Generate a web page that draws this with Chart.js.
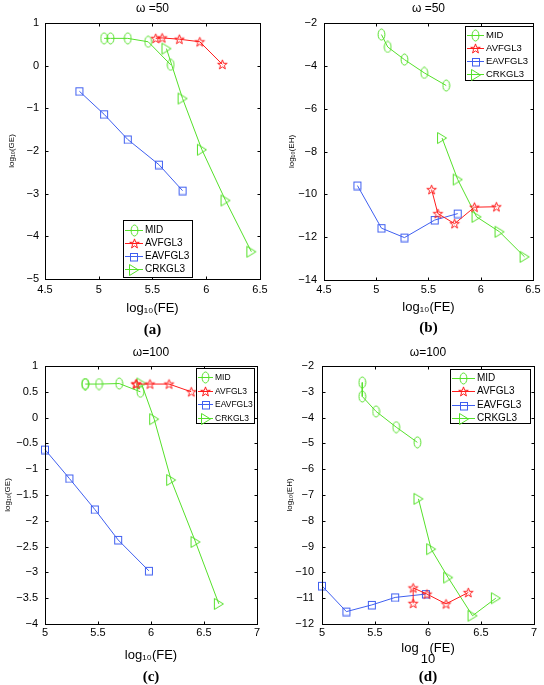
<!DOCTYPE html>
<html>
<head>
<meta charset="utf-8">
<script src="https://cdn.jsdelivr.net/npm/chart.js@4.4.0/dist/chart.umd.min.js"></script>
<style>
  body { margin: 0; background: #fff; }
  #wrap { position: relative; width: 544px; height: 685px; background: #fff; }
  #wrap canvas { position: absolute; }
</style>
</head>
<body>
<div id="wrap">
  <canvas id="pa" width="272" height="340" style="left:0;top:0"></canvas>
  <canvas id="pb" width="272" height="340" style="left:272px;top:0"></canvas>
  <canvas id="pc" width="272" height="345" style="left:0;top:340px"></canvas>
  <canvas id="pd" width="272" height="345" style="left:272px;top:340px"></canvas>
</div>
<script>
// ---- data ----
const seriesNames = ["MID", "AVFGL3", "EAVFGL3", "CRKGL3"];

// omega = 50 : log10(FE)
const feMid50 = [5.05, 5.11, 5.27, 5.46, 5.67];
const feAvf50 = [5.53, 5.59, 5.75, 5.94, 6.15];
const feEavf50 = [4.82, 5.05, 5.27, 5.56, 5.78];
const feCrk50 = [5.63, 5.78, 5.96, 6.18, 6.42];
// omega = 50 : log10(GE)
const geMid50 = [0.64, 0.64, 0.64, 0.56, 0.02];
const geAvf50 = [0.64, 0.65, 0.62, 0.56, 0.03];
const geEavf50 = [-0.60, -1.14, -1.73, -2.32, -2.93];
const geCrk50 = [0.40, -0.77, -1.97, -3.16, -4.36];
// omega = 50 : log10(EH)
const ehMid50 = [-2.54, -3.12, -3.71, -4.33, -4.92];
const ehAvf50 = [-9.78, -10.90, -11.37, -10.60, -10.58];
const ehEavf50 = [-9.59, -11.58, -12.02, -11.20, -10.90];
const ehCrk50 = [-7.37, -9.31, -11.05, -11.75, -12.92];

// omega = 100 : log10(FE)
const feMid100 = [5.38, 5.38, 5.51, 5.70, 5.90];
const feAvf100 = [5.86, 5.86, 5.99, 6.17, 6.38];
const feEavf100 = [5.00, 5.23, 5.47, 5.69, 5.98];
const feCrk100 = [5.91, 6.03, 6.19, 6.42, 6.64];
// omega = 100 : log10(GE)
const geMid100 = [0.65, 0.65, 0.65, 0.66, 0.50];
const geAvf100 = [0.65, 0.65, 0.65, 0.65, 0.50];
const geEavf100 = [-0.62, -1.18, -1.78, -2.37, -2.97];
const geCrk100 = [0.66, -0.03, -1.21, -2.41, -3.61];
// omega = 100 : log10(EH)
const ehMid100 = [-2.64, -3.18, -3.76, -4.37, -4.96];
const ehAvf100 = [-11.20, -10.60, -10.84, -11.22, -10.78];
const ehEavf100 = [-10.52, -11.52, -11.26, -10.97, -10.84];
const ehCrk100 = [-7.15, -9.10, -10.20, -11.68, -11.00];

// axis ranges / tick steps
const xRange50 = [4.5, 6.5], xRange100 = [5, 7], xStep = 0.5;
const yRangeA = [-5, 1], yStepA = 1;
const yRangeB = [-14, -2], yStepB = 2;
const yRangeC = [-4, 1], yStepC = 0.5;
const yRangeD = [-12, -2], yStepD = 1;

// ---- styling ----
const SANS = "'Liberation Sans', Arial, Helvetica, sans-serif";
const SERIF = "'Liberation Serif', 'Times New Roman', serif";
const GREEN = "#55e02a", RED = "#ff1c1c", BLUE = "#3f5ff0";

function markerCanvas(w, h, draw) {
  const c = document.createElement("canvas");
  c.width = w; c.height = h;
  const g = c.getContext("2d");
  g.lineWidth = 1;
  draw(g);
  return c;
}
const ellipseMark = markerCanvas(9, 13, g => {
  g.strokeStyle = GREEN;
  g.beginPath(); g.ellipse(4.5, 6.5, 3.4, 5.5, 0, 0, Math.PI * 2); g.stroke();
});
const starMark = markerCanvas(13, 13, g => {
  g.strokeStyle = RED;
  g.beginPath();
  for (let i = 0; i < 10; i++) {
    const r = i % 2 ? 2.0 : 5.0;
    const a = -Math.PI / 2 + i * Math.PI / 5;
    const px = 6.5 + r * Math.cos(a), py = 6.9 + r * Math.sin(a);
    if (i) g.lineTo(px, py); else g.moveTo(px, py);
  }
  g.closePath(); g.stroke();
});
const squareMark = markerCanvas(10, 10, g => {
  g.strokeStyle = BLUE; g.strokeRect(1.5, 1.5, 7, 7.5);
});
const triMark = markerCanvas(12, 14, g => {
  g.strokeStyle = GREEN;
  g.beginPath(); g.moveTo(1.5, 1.5); g.lineTo(10.5, 7); g.lineTo(1.5, 12.5); g.closePath(); g.stroke();
});

const seriesStyle = [
  { color: GREEN, mark: ellipseMark },
  { color: RED, mark: starMark },
  { color: BLUE, mark: squareMark },
  { color: GREEN, mark: triMark },
];

// box + inward ticks like a matlab axes
const matlabFrame = {
  id: "matlabFrame",
  afterDatasetsDraw(chart) {
    const { ctx, chartArea: a, scales: { x, y } } = chart;
    const L = Math.round(a.left) + 0.5, R = Math.round(a.right) + 0.5;
    const T = Math.round(a.top) + 0.5, B = Math.round(a.bottom) + 0.5;
    const t = 3;
    ctx.save();
    ctx.strokeStyle = "#000";
    ctx.lineWidth = 1;
    ctx.strokeRect(L, T, R - L, B - T);
    ctx.beginPath();
    x.ticks.forEach(tk => {
      const px = Math.round(x.getPixelForValue(tk.value)) + 0.5;
      ctx.moveTo(px, B); ctx.lineTo(px, B - t);
      ctx.moveTo(px, T); ctx.lineTo(px, T + t);
    });
    y.ticks.forEach(tk => {
      const py = Math.round(y.getPixelForValue(tk.value)) + 0.5;
      ctx.moveTo(L, py); ctx.lineTo(L + t, py);
      ctx.moveTo(R, py); ctx.lineTo(R - t, py);
    });
    ctx.stroke();
    ctx.restore();
  }
};

// boxed legend drawn with line + marker samples
const boxLegend = {
  id: "boxLegend",
  afterDraw(chart, args, o) {
    const { ctx } = chart;
    ctx.save();
    ctx.fillStyle = "#fff";
    ctx.fillRect(o.x, o.y, o.w, o.h);
    ctx.strokeStyle = "#000";
    ctx.lineWidth = 1;
    ctx.strokeRect(o.x + 0.5, o.y + 0.5, o.w, o.h);
    ctx.font = o.fontSize + "px " + SANS;
    ctx.textBaseline = "middle";
    ctx.textAlign = "left";
    chart.data.datasets.forEach((ds, i) => {
      const cy = Math.round(o.y + o.first + i * o.row) + 0.5;
      const x0 = o.x + 2, x1 = x0 + o.lineW;
      ctx.strokeStyle = ds.borderColor;
      ctx.beginPath(); ctx.moveTo(x0, cy); ctx.lineTo(x1, cy); ctx.stroke();
      const img = ds.pointStyle;
      ctx.drawImage(img, Math.round((x0 + x1) / 2 - img.width / 2), Math.round(cy - img.height / 2));
      ctx.fillStyle = "#000";
      ctx.fillText(ds.label, x1 + 2, cy);
    });
    ctx.restore();
  }
};

function fmtTick(v) {
  return String(Math.round(v * 10) / 10).replace("-", "\u2212");
}

function buildPanel(id, p) {
  const canvas = document.getElementById(id);
  const H = canvas.height, W = canvas.width;
  const a = p.area;
  const tickLh = 11 * 1.2, titleLh = 12 * 1.2, subLh = 15 * 1.2, yLh = 8 * 1.2;
  const xLh = 13 * p.xTitleLineH;
  const subPadB = H - p.subY - subLh / 2;
  const subTop = p.subY - subLh / 2;
  const xLines = Array.isArray(p.xTitle) ? p.xTitle.length : 1;

  const datasets = p.series.map((s, i) => ({
    label: seriesNames[i],
    data: s[0].map((fx, k) => ({ x: fx, y: s[1][k] })),
    showLine: true,
    borderColor: seriesStyle[i].color,
    backgroundColor: seriesStyle[i].color,
    borderWidth: 1,
    pointStyle: seriesStyle[i].mark,
    pointRadius: 5,
    pointHoverRadius: 5,
    clip: 6,
  }));

  return new Chart(canvas.getContext("2d"), {
    type: "scatter",
    data: { datasets },
    plugins: [matlabFrame, boxLegend],
    options: {
      responsive: false,
      animation: false,
      events: [],
      layout: { padding: { left: 0, top: 0, bottom: 0, right: W - a.r } },
      plugins: {
        legend: { display: false },
        tooltip: { enabled: false },
        title: {
          display: true, text: p.title, color: "#000", fullSize: false,
          font: { family: SANS, size: 12, weight: "normal" },
          padding: { top: p.titleY - titleLh / 2, bottom: a.t - p.titleY - titleLh / 2 },
        },
        subtitle: {
          display: true, text: p.sub, color: "#000", position: "bottom", fullSize: false,
          font: { family: SERIF, size: 15, weight: "bold" },
          padding: { top: 0, bottom: subPadB },
        },
        boxLegend: p.legend,
      },
      scales: {
        x: {
          type: "linear", min: p.xRange[0], max: p.xRange[1],
          grid: { display: false, drawTicks: false },
          border: { display: false },
          ticks: {
            stepSize: xStep, autoSkip: false, maxRotation: 0, color: "#000",
            font: { family: SANS, size: 11 }, padding: p.tickXY - a.b - tickLh / 2,
            callback: fmtTick,
          },
          title: {
            display: true, text: p.xTitle, color: "#000",
            font: { family: SANS, size: 13, lineHeight: p.xTitleLineH },
            padding: { top: 0, bottom: subTop - p.xTitleY - xLh / 2 - xLh * (xLines - 1) },
          },
          afterFit: s => { s.height = subTop - a.b; },
        },
        y: {
          type: "linear", min: p.yRange[0], max: p.yRange[1],
          grid: { display: false, drawTicks: false },
          border: { display: false },
          ticks: {
            stepSize: p.yStep, autoSkip: false, color: "#000",
            font: { family: SANS, size: 11 }, padding: a.l - p.tickYRight,
            callback: fmtTick,
          },
          title: {
            display: true, text: p.yTitle, color: "#000",
            font: { family: SANS, size: 8 },
            padding: { top: p.yTitleX - yLh / 2, bottom: 0 },
          },
          afterFit: s => { s.width = a.l; },
        },
      },
    },
  });
}

const xLabel = "log\u2081\u2080(FE)";

buildPanel("pa", {
  title: "\u03c9 =50", sub: "(a)", xTitle: xLabel, xTitleLineH: 1.2, yTitle: "log\u2081\u2080(GE)",
  xRange: xRange50, yRange: yRangeA, yStep: yStepA,
  area: { l: 45, t: 23, r: 262, b: 279 },
  titleY: 9, tickXY: 290, xTitleY: 308, subY: 330, tickYRight: 39, yTitleX: 12,
  series: [[feMid50, geMid50], [feAvf50, geAvf50], [feEavf50, geEavf50], [feCrk50, geCrk50]],
  legend: { x: 123, y: 220, w: 69, h: 57, first: 9.5, row: 13.3, lineW: 18, fontSize: 10 },
});

buildPanel("pb", {
  title: "\u03c9 =50", sub: "(b)", xTitle: xLabel, xTitleLineH: 1.2, yTitle: "log\u2081\u2080(EH)",
  xRange: xRange50, yRange: yRangeB, yStep: yStepB,
  area: { l: 52, t: 23, r: 262, b: 280 },
  titleY: 9, tickXY: 290, xTitleY: 307, subY: 328, tickYRight: 45, yTitleX: 20,
  series: [[feMid50, ehMid50], [feAvf50, ehAvf50], [feEavf50, ehEavf50], [feCrk50, ehCrk50]],
  legend: { x: 193, y: 26, w: 68, h: 54, first: 8.5, row: 13, lineW: 17, fontSize: 9.5 },
});

buildPanel("pc", {
  title: "\u03c9=100", sub: "(c)", xTitle: xLabel, xTitleLineH: 1.2, yTitle: "log\u2081\u2080(GE)",
  xRange: xRange100, yRange: yRangeC, yStep: yStepC,
  area: { l: 45, t: 26, r: 257, b: 284 },
  titleY: 13, tickXY: 293, xTitleY: 315, subY: 337, tickYRight: 38, yTitleX: 8,
  series: [[feMid100, geMid100], [feAvf100, geAvf100], [feEavf100, geEavf100], [feCrk100, geCrk100]],
  legend: { x: 196, y: 28, w: 58, h: 55, first: 9, row: 13.5, lineW: 15, fontSize: 8.5 },
});

buildPanel("pd", {
  title: "\u03c9=100", sub: "(d)", xTitle: ["log   (FE)", "10"], xTitleLineH: 0.85, yTitle: "log\u2081\u2080(EH)",
  xRange: xRange100, yRange: yRangeD, yStep: yStepD,
  area: { l: 50, t: 26, r: 262, b: 284 },
  titleY: 13, tickXY: 293, xTitleY: 308, subY: 337, tickYRight: 42, yTitleX: 18,
  series: [[feMid100, ehMid100], [feAvf100, ehAvf100], [feEavf100, ehEavf100], [feCrk100, ehCrk100]],
  legend: { x: 178, y: 29, w: 80, h: 54, first: 8.5, row: 13.5, lineW: 23, fontSize: 10 },
});
</script>
</body>
</html>
